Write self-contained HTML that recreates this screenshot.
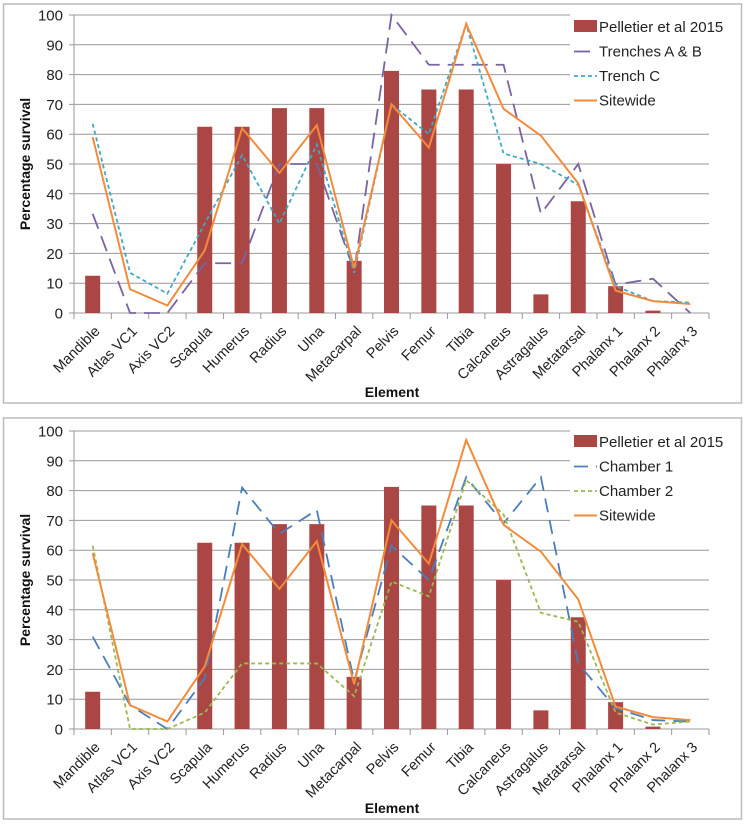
<!DOCTYPE html>
<html><head><meta charset="utf-8"><style>
body{margin:0;background:#fff;}
svg{display:block;font-family:"Liberation Sans",sans-serif;}
</style></head><body>
<svg id="svg" width="745" height="825" xmlns="http://www.w3.org/2000/svg"></svg>
<script>
const categories=["Mandible","Atlas VC1","Axis VC2","Scapula","Humerus","Radius","Ulna","Metacarpal","Pelvis","Femur","Tibia","Calcaneus","Astragalus","Metatarsal","Phalanx 1","Phalanx 2","Phalanx 3"];
const pelletier=[12.5,0,0,62.5,62.5,68.75,68.75,17.5,81.25,75,75,50,6.25,37.5,9,0.8,0];
const trenchesAB=[33.3,0,0,16.7,16.7,50,50,14,100,83.3,83.3,83.3,33.3,50,9.5,11.5,0];
const trenchC=[63.5,13.5,6.5,30,53,30,56.5,13.5,70,60,97,53.5,50,43,9,4,3.5];
const sitewide=[59,8,2.5,21,62,47,63,15,70,55.5,97,68.5,59.5,43.5,7.5,4,3];
const chamber1=[31,8,0,17,81,65.5,73.5,16,61.5,50,84.5,69,84.5,22,7,3,2.5];
const chamber2=[61.5,0,0,5.5,22,22,22,11,49.5,44.5,83.5,72,39,36,5.5,1.5,2.5];
const yTicks=[0,10,20,30,40,50,60,70,80,90,100];

const NS="http://www.w3.org/2000/svg";
const svg=document.getElementById('svg');
function mk(tag,attrs,parent,text){const e=document.createElementNS(NS,tag);for(const k in attrs)e.setAttribute(k,attrs[k]);if(text!==undefined)e.textContent=text;(parent||svg).appendChild(e);return e;}

function chart(prefix,fy,y0,y100,series,legendY){
  const g=mk('g',{});
  
  
  const fr=mk('rect',{x:3.5,y:fy,width:738,height:y0-fy+90,fill:'#fff',stroke:'#bbb','stroke-width':1.5},g);
  
  
  const xL=74,xR=709,n=categories.length,cw=(xR-xL)/n;
  const X=i=>xL+cw*(i+0.5);
  const Y=v=>y0-(y0-y100)*v/100;
  yTicks.forEach(t=>{
    const yy=Y(t);
    if(t>0){const gl=mk('line',{x1:xL,x2:t>=70?570:xR,y1:yy,y2:yy,stroke:'#999','stroke-width':1},g);
    
    }
    mk('line',{x1:xL-5,x2:xL,y1:yy,y2:yy,stroke:'#999'},g);
    const tl=mk('text',{x:63,y:yy+5.5,'text-anchor':'end','font-size':15,fill:'#222'},g,String(t));
    
    
  });
  mk('line',{x1:xL,x2:xL,y1:y100,y2:y0,stroke:'#999'},g);
  mk('line',{x1:xL,x2:xR,y1:y0,y2:y0,stroke:'#999'},g);
  for(let i=0;i<=n;i++){mk('line',{x1:xL+cw*i,x2:xL+cw*i,y1:y0,y2:y0+6,stroke:'#999'},g);}
  categories.forEach((c,i)=>{
    const bh=y0-Y(pelletier[i]);
    const b=mk('rect',{x:X(i)-7.5,y:Y(pelletier[i]),width:15,height:bh,fill:'#aa4643'},g);
    
    
    const lx=X(i)+8,ly=y0+19;
    const t=mk('text',{x:lx,y:ly,'text-anchor':'end','font-size':14.5,fill:'#222',transform:`rotate(-45 ${lx} ${ly})`},g,c);
    
    
  });
  series.forEach(s=>{
    const p=mk('polyline',{points:s.data.map((v,i)=>X(i)+','+Y(v)).join(' '),fill:'none',stroke:s.color,'stroke-width':s.w,'stroke-dasharray':s.dash},g);
    
    
  });
  const yt=mk('text',{x:30,y:(y0+y100)/2,'text-anchor':'middle','font-size':14,'font-weight':'bold',fill:'#111',transform:`rotate(-90 30 ${(y0+y100)/2})`},g,'Percentage survival');
  
  
  const xt=mk('text',{x:392,y:y0+84,'text-anchor':'middle','font-size':14,'font-weight':'bold',fill:'#111'},g,'Element');
  
  
  const items=[{label:'Pelletier et al 2015',bar:true}].concat(series);
  items.forEach((it,k)=>{
    const ly=legendY+k*24.5;
    const lg=mk('g',{},g);
    
    
    if(it.bar) mk('rect',{x:574,y:ly-7,width:23,height:12,fill:'#aa4643'},lg);
    else mk('line',{x1:574,x2:597,y1:ly,y2:ly,stroke:it.color,'stroke-width':it.w,'stroke-dasharray':it.dash},lg);
    mk('text',{x:599,y:ly+5,'font-size':15,fill:'#222'},lg,it.label||it.text);
  });
}
chart('top',4,313,15,[
  {name:'trenches-ab',text:'Trenches A & B',data:trenchesAB,color:'#7a62a3',w:1.8,dash:'16,8'},
  {name:'trench-c',text:'Trench C',data:trenchC,color:'#3fa9c5',w:1.8,dash:'4,3'},
  {name:'sitewide',text:'Sitewide',data:sitewide,color:'#f38b3b',w:2,dash:'none'}
],27);
chart('bottom',418,729,431,[
  {name:'chamber-1',text:'Chamber 1',data:chamber1,color:'#4a7ebb',w:1.8,dash:'14,8'},
  {name:'chamber-2',text:'Chamber 2',data:chamber2,color:'#98b954',w:1.8,dash:'4,3'},
  {name:'sitewide',text:'Sitewide',data:sitewide,color:'#f38b3b',w:2,dash:'none'}
],442);
</script>
</body></html>
